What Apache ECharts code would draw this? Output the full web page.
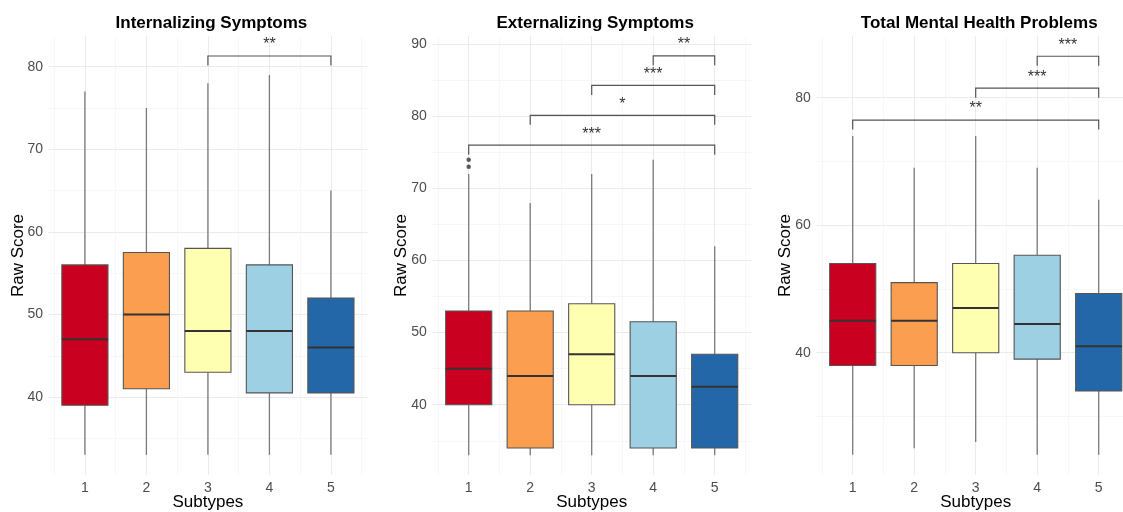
<!DOCTYPE html>
<html lang="en">
<head>
    <meta charset="UTF-8">
    <title>Subtype Boxplots</title>
    <script src="https://cdn.jsdelivr.net/npm/echarts@6.0.0/dist/echarts.min.js"></script>
    <style>
        body { margin: 0; background: #ffffff; }
        #Chart1 { width: 1123px; height: 512px; }
    </style>
</head>
<body>
    <div id="Chart1"></div>

<script>

// ---- data ----
const subtypes = ['1', '2', '3', '4', '5'];
const subtypeColors = ['#CA0020', '#FC9E4F', '#FFFFB2', '#9DD0E3', '#2467A8'];

const panelTitles = ['Internalizing Symptoms', 'Externalizing Symptoms', 'Total Mental Health Problems'];

// [low whisker, Q1, median, Q3, high whisker]
const internalizingBox = [[33, 39, 47, 56, 77], [33, 41, 50, 57.5, 75], [33, 43, 48, 58, 78], [33, 40.5, 48, 56, 79], [33, 40.5, 46, 52, 65]];
const externalizingBox = [[33, 40, 45, 53, 72], [33, 34, 44, 53, 68], [33, 40, 47, 54, 72], [33, 34, 44, 51.5, 74], [33, 34, 42.5, 47, 62]];
const totalBox = [[24, 38, 45, 54, 74], [25, 38, 45, 51, 69], [26, 40, 47, 54, 74], [24, 39, 44.5, 55.3, 69], [24, 34, 41, 49.3, 64]];

// outliers: [subtype, value]
const externalizingOutliers = [[1, 74], [1, 73]];

// significance brackets: [from subtype, to subtype, bracket height]
const internalizingSig = [[3, 5, 81.3]];
const internalizingSigLabels = ['**'];
const externalizingSig = [[4, 5, 88.4], [3, 5, 84.3], [2, 5, 80.15], [1, 5, 76.0]];
const externalizingSigLabels = ['**', '***', '*', '***'];
const totalSig = [[4, 5, 86.5], [3, 5, 81.5], [1, 5, 76.5]];
const totalSigLabels = ['***', '***', '**'];

// y axis ranges and tick values
const yRanges = [[30.56, 83.72], [30.25, 91.15], [20.82, 89.68]];
const yMajorTicks = [[40, 50, 60, 70, 80], [40, 50, 60, 70, 80, 90], [40, 60, 80]];
const yMinorTicks = [[35, 45, 55, 65, 75], [35, 45, 55, 65, 75, 85], [30, 50, 70]];
const xMajorTicks = [1, 2, 3, 4, 5];
const xMinorTicks = [0.5, 1.5, 2.5, 3.5, 4.5, 5.5];

const boxes = [internalizingBox, externalizingBox, totalBox];
const sigs = [internalizingSig, externalizingSig, totalSig];
const sigLabels = [internalizingSigLabels, externalizingSigLabels, totalSigLabels];

// ---- layout ----
const FONT = 'Liberation Sans, Arial, Helvetica, sans-serif';
const gridLefts = [48, 431.8, 815.8];
const gridWidth = 319.8;
const gridTop = 36;
const gridHeight = 439;
const nameGaps = [21, 22, 22];

let myChart1 = echarts.init(document.getElementById('Chart1'));

function renderBox(params, api) {
    let x = api.value(0);
    let lo = api.coord([x, api.value(1)]);
    let q1 = api.coord([x, api.value(2)]);
    let md = api.coord([x, api.value(3)]);
    let q3 = api.coord([x, api.value(4)]);
    let hi = api.coord([x, api.value(5)]);
    let half = api.size([0.75, 0])[0] / 2;
    let cx = lo[0];
    return {
        type: 'group',
        children: [
            { type: 'line', shape: { x1: cx, y1: hi[1], x2: cx, y2: q3[1] }, style: { stroke: '#7a7a7a', lineWidth: 1.3 } },
            { type: 'line', shape: { x1: cx, y1: q1[1], x2: cx, y2: lo[1] }, style: { stroke: '#7a7a7a', lineWidth: 1.3 } },
            {
                type: 'rect',
                shape: { x: cx - half, y: q3[1], width: half * 2, height: q1[1] - q3[1] },
                style: { fill: subtypeColors[params.dataIndex], stroke: '#555555', lineWidth: 1.1 }
            },
            { type: 'line', shape: { x1: cx - half, y1: md[1], x2: cx + half, y2: md[1] }, style: { stroke: '#333333', lineWidth: 2 } }
        ]
    };
}

function makeSigRender(labels) {
    return function (params, api) {
        let a = api.coord([api.value(0), api.value(2)]);
        let b = api.coord([api.value(1), api.value(2)]);
        let tip = 9.5;
        return {
            type: 'group',
            children: [
                {
                    type: 'polyline',
                    shape: { points: [[a[0], a[1] + tip], [a[0], a[1]], [b[0], b[1]], [b[0], b[1] + tip]] },
                    style: { stroke: '#555555', lineWidth: 1.2, fill: null }
                },
                {
                    type: 'text',
                    style: {
                        text: labels[params.dataIndex],
                        x: (a[0] + b[0]) / 2, y: a[1] - 3,
                        align: 'center', verticalAlign: 'bottom',
                        fontSize: 16, fontFamily: FONT, fill: '#333333'
                    }
                }
            ]
        };
    };
}

let grid = [], xAxis = [], yAxis = [], title = [], series = [];

for (let p = 0; p < 3; p++) {
    grid.push({ left: gridLefts[p], top: gridTop, width: gridWidth, height: gridHeight, outerBoundsMode: 'none', containLabel: false });

    title.push({
        text: panelTitles[p],
        left: gridLefts[p] + gridWidth / 2 - 1.5,
        top: 10,
        textAlign: 'center',
        textStyle: { fontFamily: FONT, fontSize: 17, fontWeight: 'bold', color: '#000000' }
    });

    // main x axis (subtype labels + major vertical lines)
    xAxis.push({
        type: 'value', gridIndex: p, min: 0.4, max: 5.6,
        name: 'Subtypes', nameLocation: 'middle', nameGap: 19, nameMoveOverlap: false,
        nameTextStyle: { fontFamily: FONT, fontSize: 17, color: '#000000' },
        axisLine: { show: false },
        axisTick: { show: false, customValues: xMajorTicks },
        axisLabel: {
            customValues: xMajorTicks, margin: 6,
            formatter: function (v) { return subtypes[Math.round(v) - 1]; },
            fontFamily: FONT, fontSize: 14, color: '#4D4D4D'
        },
        splitLine: { show: true, lineStyle: { color: '#EBEBEB', width: 1 } }
    });
    // minor x axis (vertical lines between subtypes)
    xAxis.push({
        type: 'value', gridIndex: p, min: 0.4, max: 5.6,
        axisLine: { show: false },
        axisTick: { show: false, customValues: xMinorTicks },
        axisLabel: { show: false, customValues: xMinorTicks },
        splitLine: { show: true, lineStyle: { color: '#F3F3F3', width: 0.7 } }
    });

    yAxis.push({
        type: 'value', gridIndex: p, min: yRanges[p][0], max: yRanges[p][1],
        name: 'Raw Score', nameLocation: 'middle', nameGap: nameGaps[p], nameMoveOverlap: false,
        nameTextStyle: { fontFamily: FONT, fontSize: 17, color: '#000000' },
        axisLine: { show: false },
        axisTick: { show: false, customValues: yMajorTicks[p] },
        axisLabel: { customValues: yMajorTicks[p], margin: 5, fontFamily: FONT, fontSize: 14, color: '#4D4D4D' },
        splitLine: { show: true, lineStyle: { color: '#EBEBEB', width: 1 } }
    });
    yAxis.push({
        type: 'value', gridIndex: p, position: 'left', min: yRanges[p][0], max: yRanges[p][1],
        axisLine: { show: false },
        axisTick: { show: false, customValues: yMinorTicks[p] },
        axisLabel: { show: false, customValues: yMinorTicks[p] },
        splitLine: { show: true, lineStyle: { color: '#F3F3F3', width: 0.7 } }
    });

    series.push({
        type: 'custom',
        xAxisIndex: 2 * p, yAxisIndex: 2 * p,
        renderItem: renderBox,
        encode: { x: 0, y: [1, 2, 3, 4, 5] },
        data: boxes[p].map(function (b, i) { return [i + 1].concat(b); }),
        z: 3
    });
    series.push({
        type: 'custom',
        xAxisIndex: 2 * p, yAxisIndex: 2 * p,
        renderItem: makeSigRender(sigLabels[p]),
        encode: { x: [0, 1], y: 2 },
        data: sigs[p],
        z: 4
    });
}

series.push({
    type: 'scatter',
    xAxisIndex: 2, yAxisIndex: 2,
    symbolSize: 4.5,
    itemStyle: { color: '#333333' },
    data: externalizingOutliers,
    z: 5
});

let option = {
    backgroundColor: '#ffffff',
    animation: false,
    title: title,
    grid: grid,
    xAxis: xAxis,
    yAxis: yAxis,
    series: series
};

myChart1.setOption(option);

</script>
</body>
</html>
